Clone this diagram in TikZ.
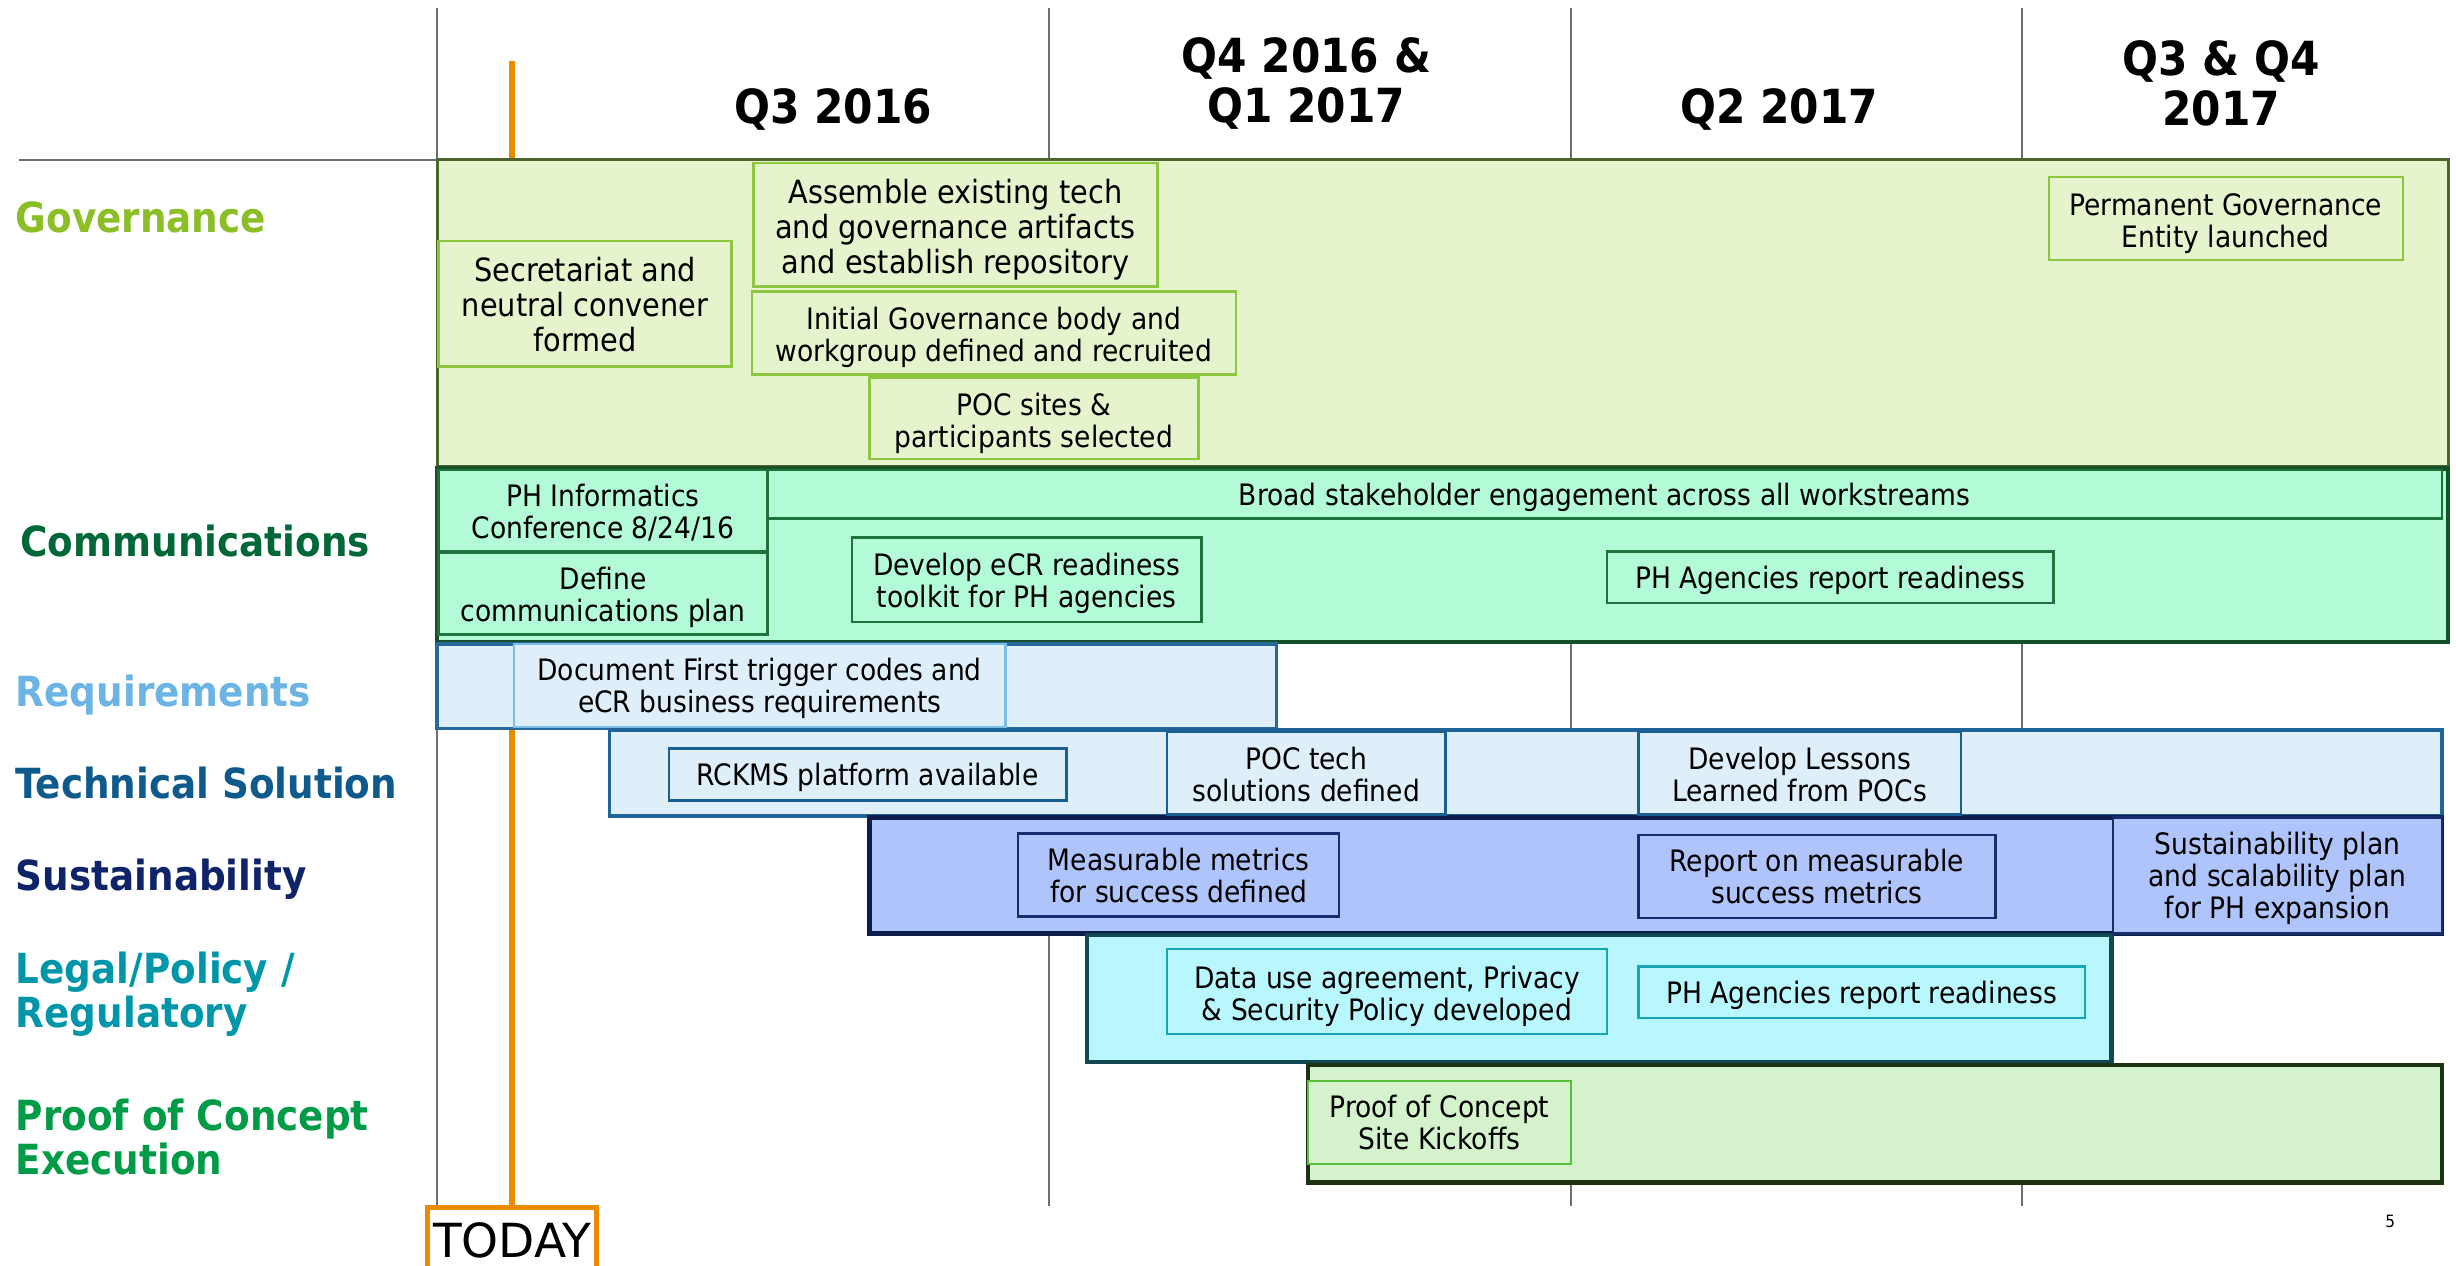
\documentclass[tikz,border=0pt]{standalone}
\usepackage{fontspec}
\setmainfont{DejaVu Sans Condensed}
\newfontfamily\todayfont{DejaVu Sans}
\usetikzlibrary{fit}
\def\u{1.5663pt}
\def\strutH{0pt}
\newcommand\fs{\rule{0pt}{\strutH}}
\definecolor{govfill}{RGB}{230,244,206}
\definecolor{govline}{RGB}{78,100,45}
\definecolor{govin}{RGB}{141,198,63}
\definecolor{govlab}{RGB}{140,190,40}
\definecolor{comfill}{RGB}{179,250,214}
\definecolor{comline}{RGB}{20,80,40}
\definecolor{comin}{RGB}{30,115,60}
\definecolor{comlab}{RGB}{0,104,56}
\definecolor{reqfill}{RGB}{222,239,249}
\definecolor{reqline}{RGB}{40,105,155}
\definecolor{reqin}{RGB}{125,189,232}
\definecolor{reqlab}{RGB}{108,180,228}
\definecolor{tecfill}{RGB}{222,239,249}
\definecolor{tecline}{RGB}{30,100,150}
\definecolor{tecin}{RGB}{25,95,145}
\definecolor{teclab}{RGB}{14,90,140}
\definecolor{susfill}{RGB}{176,196,252}
\definecolor{susline}{RGB}{12,28,75}
\definecolor{susin}{RGB}{22,45,110}
\definecolor{suslab}{RGB}{15,35,105}
\definecolor{legfill}{RGB}{184,247,253}
\definecolor{legline}{RGB}{18,72,82}
\definecolor{legin}{RGB}{25,165,180}
\definecolor{leglab}{RGB}{0,150,170}
\definecolor{pocfill}{RGB}{212,242,204}
\definecolor{pocline}{RGB}{28,50,18}
\definecolor{pocin}{RGB}{90,190,60}
\definecolor{poclab}{RGB}{0,155,70}
\definecolor{todayor}{RGB}{238,138,0}
\definecolor{gridg}{RGB}{110,110,110}
\begin{document}
\begin{tikzpicture}[x=1.5663pt,y=-1.5663pt,
  grid/.style={draw=gridg,line width=2pt},
  hdr/.style={font=\fontsize{47}{50}\selectfont\bfseries,align=center,inner sep=0pt},
  lab/.style={font=\fontsize{41.5}{44}\selectfont\bfseries,align=left,inner sep=0pt,anchor=west},
  row/.style={inner sep=0pt,outer sep=0pt},
  sh/.code={\def\strutH{#1}},
  body/.style={font=\fontsize{29.5}{32}\selectfont,align=center,inner sep=0pt,outer sep=0pt,line width=2.5pt,sh=28.7pt},
  big/.style={body,font=\fontsize{32}{35}\selectfont},
  gin/.style={draw=govin,fill=govfill},
  cin/.style={draw=comin,fill=comfill},
  rin/.style={draw=reqin,fill=reqfill},
  tin/.style={draw=tecin,fill=tecfill},
  sin/.style={draw=susin,fill=susfill},
  lin/.style={draw=legin,fill=legfill},
  pin/.style={draw=pocin,fill=pocfill},
]
\useasboundingbox (0,0) rectangle (1568,808);
% grid
\coordinate (g1t) at (279,5); \coordinate (g1b) at (279,770);
\coordinate (g2t) at (670,5); \coordinate (g2b) at (670,770);
\coordinate (g3t) at (1003,5); \coordinate (g3b) at (1003,770);
\coordinate (g4t) at (1291,5); \coordinate (g4b) at (1291,770);
\coordinate (hl) at (12,102); \coordinate (hr) at (279,102);
\draw[grid] (g1t) -- (g1b);
\draw[grid] (g2t) -- (g2b);
\draw[grid] (g3t) -- (g3b);
\draw[grid] (g4t) -- (g4b);
\draw[draw=gridg,line width=2.5pt] (hl) -- (hr);
% today line
\coordinate (tdt) at (327,39) ; \coordinate (tdb) at (327,771);
\draw[todayor,line width=6pt] (tdt) -- (tdb);
% headers
\node[hdr] (h1) at (532,70) {Q3 2016};
\node[hdr] (h2) at (834,53.5) {Q4 2016 \&\\Q1 2017};
\node[hdr] (h3) at (1136,70) {Q2 2017};
\node[hdr] (h4) at (1418,53) {Q3 \& Q4\\2017};
% labels
\node[lab,text=govlab] (lgov) at (10,139) {Governance};
\node[lab,text=comlab] (lcom) at (13,345.5) {Communications};
\node[lab,text=reqlab] (lreq) at (10,444) {Requirements};
\node[lab,text=teclab] (ltec) at (10,500) {Technical Solution};
\node[lab,text=suslab] (lsus) at (10,561) {Sustainability};
\node[lab,text=leglab] (lleg) at (10,635) {Legal/Policy /\\Regulatory};
\node[lab,text=poclab] (lpoc) at (10,726) {Proof of Concept\\Execution};
% rows
\node[row,fit={(279,102) (1563,298)},draw=govline,fill=govfill,line width=3pt] (rgov) {};
\node[row,fit={(279,299) (1563,410)},draw=comline,fill=comfill,line width=4.5pt] (rcom) {};
\node[row,fit={(279,411) (815,465)},draw=reqline,fill=reqfill,line width=3.5pt] (rreq) {};
\node[row,fit={(389,466) (1559,521)},draw=tecline,fill=tecfill,line width=3.5pt] (rtec) {};
\node[row,fit={(555,522) (1559,596)},draw=susline,fill=susfill,line width=4.5pt] (rsus) {};
\node[row,fit={(694,597) (1348,678)},draw=legline,fill=legfill,line width=4.5pt] (rleg) {};
\node[row,fit={(835,680) (1559,755)},draw=pocline,fill=pocfill,line width=4.5pt] (rpoc) {};
% governance items
\node[big,gin,sh=25.5pt,minimum width=187*\u,minimum height=80*\u] (sec) at (373.5,194) {\fs Secretariat and\\neutral convener\\formed};
\node[big,gin,sh=33.7pt,minimum width=258*\u,minimum height=79*\u] (assem) at (610,143.5) {\fs Assemble existing tech\\and governance artifacts\\and establish repository};
\node[body,gin,sh=31.8pt,minimum width=309*\u,minimum height=53*\u] (init) at (634.5,212.5) {\fs Initial Governance body and\\workgroup defined and recruited};
\node[body,gin,sh=31.8pt,minimum width=210*\u,minimum height=52*\u] (pocs) at (660,267) {\fs POC sites \&\\participants selected};
\node[body,gin,sh=31.8pt,minimum width=226*\u,minimum height=53*\u] (perm) at (1421,139.5) {\fs Permanent Governance\\Entity launched};
% communications items
\node[body,cin,sh=25.5pt,minimum width=210*\u,minimum height=52*\u] (phinf) at (385,326) {\fs PH Informatics\\Conference 8/24/16};
\node[body,cin,sh=30pt,minimum width=210*\u,minimum height=52*\u] (defc) at (385,379) {\fs Define\\communications plan};
\node[body,cin,minimum width=1069*\u,minimum height=31*\u] (broad) at (1024.5,315.5) {\fs Broad stakeholder engagement across all workstreams};
\node[body,cin,sh=30pt,minimum width=223*\u,minimum height=54*\u] (tool) at (655.5,370) {\fs Develop eCR readiness\\toolkit for PH agencies};
\node[body,cin,minimum width=285*\u,minimum height=33*\u] (phr1) at (1168.5,368.5) {\fs PH Agencies report readiness};
% requirements
\node[body,rin,minimum width=314*\u,minimum height=53*\u] (docf) at (485,437.5) {\fs Document First trigger codes and\\eCR business requirements};
% technical
\node[body,tin,minimum width=254*\u,minimum height=33*\u] (rck) at (554,494.5) {\fs RCKMS platform available};
\node[body,tin,sh=25.5pt,minimum width=178*\u,minimum height=53*\u] (poct) at (834,493.5) {\fs POC tech\\solutions defined};
\node[body,tin,sh=25.5pt,minimum width=206*\u,minimum height=53*\u] (less) at (1149,493.5) {\fs Develop Lessons\\Learned from POCs};
% sustainability
\node[body,sin,sh=24pt,minimum width=205*\u,minimum height=53*\u] (meas) at (752.5,558.5) {\fs Measurable metrics\\for success defined};
\node[body,sin,sh=0pt,minimum width=228*\u,minimum height=53*\u] (rep) at (1160,559.5) {\fs Report on measurable\\success metrics};
\node[body,sin,minimum width=210*\u,minimum height=74*\u] (splan) at (1454,559) {\fs Sustainability plan\\and scalability plan\\for PH expansion};
% legal
\node[body,lin,sh=31.8pt,minimum width=281*\u,minimum height=54*\u] (dua) at (885.5,633) {\fs Data use agreement, Privacy\\\& Security Policy developed};
\node[body,lin,minimum width=285*\u,minimum height=33*\u] (phr2) at (1188.5,633.5) {\fs PH Agencies report readiness};
% poc
\node[body,pin,sh=0pt,minimum width=168*\u,minimum height=53*\u] (kick) at (919,716.5) {\fs Proof of Concept\\Site Kickoffs};
% today box
\node[draw=todayor,fill=white,line width=5pt,inner sep=0pt,minimum width=108*\u,minimum height=44*\u,font=\todayfont\fontsize{47}{50}\selectfont] (today) at (327,793) {TODAY\rule[-4pt]{0pt}{0pt}};
% page number
\node[inner sep=0pt,font=\fontsize{17}{20}\selectfont] (pn) at (1526,780) {5};
\end{tikzpicture}
\end{document}
